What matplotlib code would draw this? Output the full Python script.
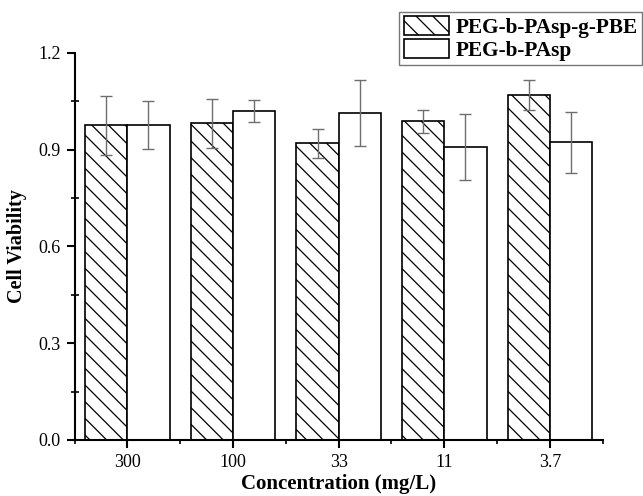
import matplotlib
matplotlib.use("Agg")
import matplotlib.pyplot as plt
import numpy as np
from matplotlib.ticker import MultipleLocator, FixedLocator

plt.rcParams['font.family'] = ['Liberation Serif', 'DejaVu Serif']
plt.rcParams['hatch.linewidth'] = 0.9

categories = ["300", "100", "33", "11", "3.7"]
series_names = ["PEG-b-PAsp-g-PBE", "PEG-b-PAsp"]
pbe_values = [0.975, 0.981, 0.919, 0.987, 1.069]
pbe_errors = [0.092, 0.076, 0.046, 0.036, 0.045]
pasp_values = [0.975, 1.018, 1.012, 0.907, 0.922]
pasp_errors = [0.074, 0.034, 0.102, 0.102, 0.094]

W, H = 643, 496
fig = plt.figure(figsize=(W / 100, H / 100), dpi=100)
ax = fig.add_axes([74.5 / W, (H - 440) / H, (602.8 - 74.5) / W, (440 - 52.7) / H])

x = np.arange(len(categories))
bw = 0.4
b1 = ax.bar(x - bw / 2, pbe_values, bw, color='white', edgecolor='black',
            hatch='\\\\', linewidth=1.2, label=series_names[0], zorder=2)
b2 = ax.bar(x + bw / 2, pasp_values, bw, color='white', edgecolor='black',
            linewidth=1.2, label=series_names[1], zorder=2)
ax.errorbar(x - bw / 2, pbe_values, yerr=pbe_errors, fmt='none', ecolor='#6e6e6e',
            elinewidth=1.0, capsize=4, capthick=1.0, zorder=3)
ax.errorbar(x + bw / 2, pasp_values, yerr=pasp_errors, fmt='none', ecolor='#6e6e6e',
            elinewidth=1.0, capsize=4, capthick=1.0, zorder=3)

ax.set_xlim(-0.5, len(categories) - 0.5)
ax.set_ylim(0, 1.2)
ax.set_xticks(x)
ax.set_xticklabels(categories)
ax.xaxis.set_minor_locator(FixedLocator(np.arange(-0.5, len(categories), 1.0)))
ax.yaxis.set_major_locator(MultipleLocator(0.3))
ax.yaxis.set_minor_locator(MultipleLocator(0.15))
ax.set_yticklabels([f"{v:.1f}" for v in ax.get_yticks()])

for s in ['top', 'right']:
    ax.spines[s].set_visible(False)
for s in ['left', 'bottom']:
    ax.spines[s].set_linewidth(1.5)

ax.tick_params(axis='both', which='major', direction='out', length=6, width=1.5,
               labelsize=13, pad=4)
ax.tick_params(axis='y', which='minor', direction='inout', length=6, width=1.2)
ax.tick_params(axis='x', which='minor', direction='out', length=3, width=1.2)

ax.set_xlabel("Concentration (mg/L)", fontsize=15, fontweight='bold', labelpad=2)
ax.set_ylabel("Cell Viability", fontsize=14.5, fontweight='bold', labelpad=8)

leg = fig.legend(handles=[b1, b2], labels=series_names, loc='upper right',
                 bbox_to_anchor=(642 / W, 1 - 12 / H), prop={'weight': 'bold', 'size': 15.3},
                 frameon=True, fancybox=False, handlelength=2.15, handleheight=1.0,
                 handletextpad=0.3, borderpad=0.2, labelspacing=0.05, borderaxespad=0)
leg.get_frame().set_edgecolor('#555555')
leg.get_frame().set_linewidth(1.0)

fig.savefig("out.png", dpi=100)
